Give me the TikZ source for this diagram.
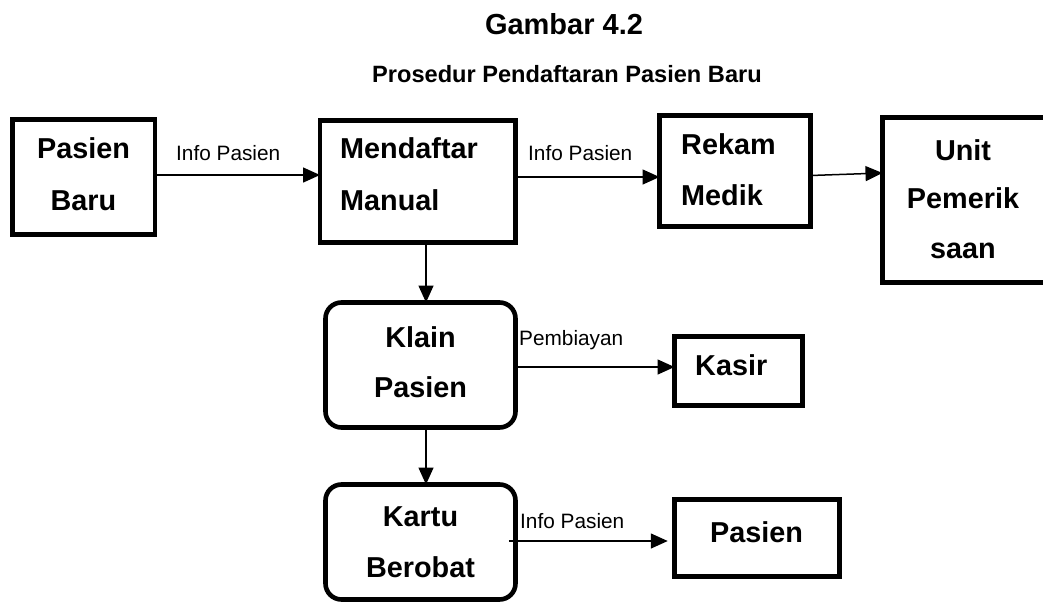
\documentclass[tikz,border=0pt]{standalone}
\usepackage{fontspec}
\setmainfont{Liberation Sans}
\usetikzlibrary{arrows.meta,calc}
\begin{document}
\begin{tikzpicture}[x=1pt,y=-1pt,
  box/.style={draw,line width=4.6pt,rectangle,inner sep=0pt,outer sep=0pt},
  rbox/.style={box,rounded corners=16pt},
  btxt/.style={font=\fontsize{28.8}{30}\selectfont\bfseries,inner sep=0pt},
  ttxt/.style={font=\fontsize{23.6}{26}\selectfont\bfseries,inner sep=0pt,anchor=base},
  lbl/.style={font=\fontsize{20.8}{22}\selectfont,inner sep=0pt,anchor=base west},
  arr/.style={line width=1.5pt,-{Triangle[length=17pt,width=15pt]}},
  ln/.style={line width=1.5pt}]
\fill[white] (0,0) rectangle (1043,605);
\useasboundingbox (0,0) rectangle (1043,605);
\begin{scope}
\clip (0,0) rectangle (1043,605);
% title
\node[ttxt,font=\fontsize{29}{30}\selectfont\bfseries] (t1) at (564,34) {Gambar 4.2};
\node[ttxt] (t2) at (567,82) {Prosedur Pendaftaran Pasien Baru};
% boxes
\node[box,minimum width=142.5pt,minimum height=115pt] (PB) at (83.75,177) {};
\node[box,minimum width=195.5pt,minimum height=122pt] (MM) at (417.75,181.5) {};
\node[box,minimum width=151pt,minimum height=111pt] (RM) at (735,171) {};
\node[box,minimum width=177pt,minimum height=165pt] (UP) at (971,200) {};
\node[rbox,minimum width=190pt,minimum height=125pt] (KP) at (420.5,365) {};
\node[box,minimum width=128pt,minimum height=69pt] (KS) at (738.5,371) {};
\node[rbox,minimum width=190pt,minimum height=115pt] (KB) at (420.5,542) {};
\node[box,minimum width=165pt,minimum height=77pt] (PS) at (757,538) {};
% box texts
\node[btxt,anchor=base] (pb1) at (83.5,158) {Pasien};
\node[btxt,anchor=base] (pb2) at (83.5,210) {Baru};
\node[btxt,anchor=base west] (mm1) at (340,158.5) {Mendaftar};
\node[btxt,anchor=base west] (mm2) at (340,210) {Manual};
\node[btxt,anchor=base west] (rm1) at (681,154) {Rekam};
\node[btxt,anchor=base west] (rm2) at (681,205) {Medik};
\node[btxt,anchor=base] (up1) at (963,160) {Unit};
\node[btxt,anchor=base] (up2) at (963,208) {Pemerik};
\node[btxt,anchor=base] (up3) at (963,258) {saan};
\node[btxt,anchor=base] (kp1) at (420.5,347) {Klain};
\node[btxt,anchor=base] (kp2) at (420.5,397) {Pasien};
\node[btxt,anchor=base west] (ks1) at (695,375) {Kasir};
\node[btxt,anchor=base] (kb1) at (420.5,526) {Kartu};
\node[btxt,anchor=base] (kb2) at (420.5,577) {Berobat};
\node[btxt,anchor=base] (ps1) at (756.5,542) {Pasien};
% labels
\node[lbl] (l1) at (176,160) {Info Pasien};
\node[lbl] (l2) at (528,160) {Info Pasien};
\node[lbl] (l3) at (519,345) {Pembiayan};
\node[lbl] (l4) at (520,528) {Info Pasien};
% connectors
\draw[arr] ([yshift=2pt]PB.east) -- ([yshift=2pt]PB.east -| MM.west);
\draw[arr] ([yshift=4.5pt]MM.east) -- ([yshift=4.5pt]MM.east -| RM.west);
\draw[arr] ([yshift=-4.5pt]RM.east) -- ([yshift=27pt]UP.west);
\draw[arr] ([xshift=8.25pt,yshift=2pt]MM.south) -- ([xshift=8.25pt]MM.south |- KP.north);
\draw[arr] ([yshift=-2pt]KP.east) -- ([yshift=-2pt]KP.east -| KS.west);
\draw[arr] ([xshift=5.5pt]KP.south) -- ([xshift=5.5pt]KP.south |- KB.north);
\draw[arr] ([xshift=-6.75pt,yshift=1pt]KB.east) -- ([xshift=-6.75pt,yshift=1pt]KB.east -| PS.west);
\end{scope}
\end{tikzpicture}
\end{document}
